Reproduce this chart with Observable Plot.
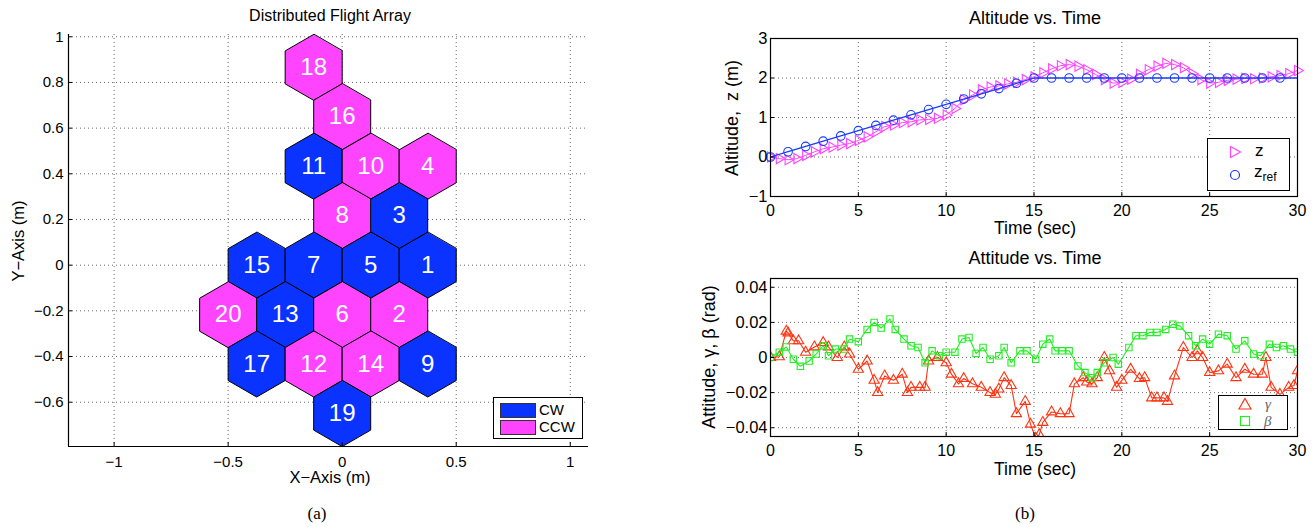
<!DOCTYPE html>
<html><head><meta charset="utf-8">
<script src="https://cdn.jsdelivr.net/npm/d3@7"></script>
<script src="https://cdn.jsdelivr.net/npm/@observablehq/plot@0.6"></script>
<style>
body{margin:0;background:#fff;width:1313px;height:527px;position:relative;overflow:hidden;font-family:"Liberation Sans",Arial,sans-serif;color:#000;}
.abs{position:absolute;}
.lbl{position:absolute;white-space:nowrap;transform:translate(-50%,-50%);line-height:1;}
.rot{transform:translate(-50%,-50%) rotate(-90deg);}
.cap{position:absolute;font-family:"Liberation Serif","Times New Roman",serif;font-size:17px;transform:translate(-50%,-50%);line-height:1;}
.legend{position:absolute;background:#fff;border:1.5px solid #000;box-sizing:border-box;}
.legend .it{position:absolute;white-space:nowrap;line-height:1;}
svg{overflow:visible}
</style></head><body>
<div id="left" class="abs" style="left:0;top:0"></div>
<div id="alt" class="abs" style="left:700px;top:30px"></div>
<div id="att" class="abs" style="left:700px;top:270px"></div>

<div class="lbl" style="left:330px;top:16px;font-size:16px">Distributed Flight Array</div>
<div class="lbl rot" style="left:18px;top:241px;font-size:16.5px">Y−Axis (m)</div>
<div class="lbl" style="left:330px;top:477px;font-size:16.5px">X−Axis (m)</div>
<div class="cap" style="left:317px;top:513px">(a)</div>

<div class="lbl" style="left:1035px;top:18px;font-size:18px">Altitude vs. Time</div>
<div class="lbl rot" style="left:732px;top:118px;font-size:18px">Altitude, &nbsp;z (m)</div>
<div class="lbl" style="left:1035px;top:229px;font-size:17.5px">Time (sec)</div>

<div class="lbl" style="left:1035px;top:258px;font-size:18px">Attitude vs. Time</div>
<div class="lbl rot" style="left:709px;top:357px;font-size:18px">Attitude, γ, β (rad)</div>
<div class="lbl" style="left:1035px;top:470px;font-size:17.5px">Time (sec)</div>
<div class="cap" style="left:1025px;top:513px">(b)</div>

<div class="legend" style="left:493px;top:397px;width:90px;height:42px">
  <div class="it" style="left:6px;top:5px;width:34px;height:13px;background:#0b33ff;border:1px solid #333"></div>
  <div class="it" style="left:45px;top:4px;font-size:15px">CW</div>
  <div class="it" style="left:6px;top:22px;width:34px;height:13px;background:#ff44ff;border:1px solid #333"></div>
  <div class="it" style="left:45px;top:21px;font-size:15px">CCW</div>
</div>

<div class="legend" style="left:1207px;top:138px;width:83px;height:53px">
  <svg class="it" style="left:19px;top:5px" width="16" height="16"><path d="M3.5,2.5 L13.5,8 L3.5,13.5 Z" fill="none" stroke="#ff44ff" stroke-width="1.2"/></svg>
  <div class="it" style="left:47px;top:3px;font-size:17px">z</div>
  <svg class="it" style="left:19px;top:28px" width="16" height="16"><circle cx="8" cy="8" r="4.5" fill="none" stroke="#1a3cff" stroke-width="1.2"/></svg>
  <div class="it" style="left:46px;top:24px;font-size:17px">z<sub style="font-size:12px">ref</sub></div>
</div>

<div class="legend" style="left:1218px;top:395px;width:70px;height:35px">
  <svg class="it" style="left:18px;top:0px" width="16" height="16"><path d="M8,2.5 L14,13 L2,13 Z" fill="none" stroke="#ff3311" stroke-width="1.2"/></svg>
  <div class="it" style="left:46px;top:1px;font-size:15px;font-style:italic;font-family:'Liberation Serif',serif;color:#666">γ</div>
  <svg class="it" style="left:18px;top:17px" width="16" height="16"><rect x="3.5" y="3.5" width="9" height="9" fill="none" stroke="#22ee22" stroke-width="1.2"/></svg>
  <div class="it" style="left:45px;top:18px;font-size:15px;font-style:italic;font-family:'Liberation Serif',serif;color:#666">β</div>
</div>

<script>
// ---------- Data: hexagon flight array ----------
const hexIds = [18, 16, 11, 10, 4, 8, 3, 15, 7, 5, 1, 20, 13, 6, 2, 17, 12, 14, 9, 19];
const hexX   = [-0.125, 0, -0.125, 0.125, 0.375, 0, 0.25, -0.375, -0.125, 0.125, 0.375, -0.5, -0.25, 0, 0.25, -0.375, -0.125, 0.125, 0.375, 0];
const hexY   = [0.866, 0.65, 0.433, 0.433, 0.433, 0.217, 0.217, 0, 0, 0, 0, -0.217, -0.217, -0.217, -0.217, -0.433, -0.433, -0.433, -0.433, -0.65];
const hexDir = ["CCW","CCW","CW","CCW","CCW","CCW","CW","CW","CW","CW","CW","CCW","CW","CCW","CCW","CW","CCW","CCW","CW","CW"];
const hexSpacing = 0.25;
const dirNames = ["CW", "CCW"];
const leftXTicks = [-1, -0.5, 0, 0.5, 1];
const leftYTicks = [-0.6, -0.4, -0.2, 0, 0.2, 0.4, 0.6, 0.8, 1];

// ---------- Data: altitude ----------
const zT = [0,0.5,1,1.5,2,2.5,3,3.5,4,4.5,5,5.5,6,6.5,7,7.5,8,8.5,9,9.5,10,10.5,11,11.5,12,12.5,13,13.5,14,14.5,15,15.5,16,16.5,17,17.5,18,18.5,19,19.5,20,20.5,21,21.5,22,22.5,23,23.5,24,24.5,25,25.5,26,26.5,27,27.5,28,28.5,29,29.5,30];
const zV = [0,-0.04,-0.07,-0.04,0.04,0.13,0.21,0.25,0.3,0.34,0.42,0.51,0.64,0.77,0.81,0.87,0.89,0.94,0.95,0.98,1.06,1.23,1.45,1.57,1.7,1.77,1.8,1.85,1.89,1.96,2.03,2.13,2.23,2.31,2.34,2.3,2.21,2.09,1.96,1.87,1.89,1.97,2.09,2.21,2.3,2.37,2.34,2.26,2.11,1.96,1.87,1.89,1.94,1.97,1.99,1.98,2.0,2.03,2.06,2.11,2.19];
const zrefT = [0,1,2,3,4,5,6,7,8,9,10,11,12,13,14,15,16,17,18,19,20,21,22,23,24,25,26,27,28,29,30];
const zrefV = [0,0.133,0.267,0.4,0.533,0.667,0.8,0.933,1.067,1.2,1.333,1.467,1.6,1.733,1.867,2,2,2,2,2,2,2,2,2,2,2,2,2,2,2,2];
const zrefMarkerCount = 30;
const timeTicks = [0, 5, 10, 15, 20, 25, 30];
const altTicks = [-1, 0, 1, 2, 3];

// ---------- Data: attitude ----------
const gT = [0,0.5,0.9,1.0,1.3,1.6,2,2.5,3,3.3,3.8,4.2,4.5,5,5.5,5.9,6.1,6.5,7,7.5,7.8,8,8.5,8.8,9,9.5,10,10.3,10.7,11,11.5,12,12.5,12.8,13,13.3,13.7,14,14.5,14.8,15.1,15.3,15.5,16,16.5,17,17.3,17.8,18,18.3,18.6,19,19.3,19.7,20,20.5,21,21.3,21.7,22,22.4,22.6,23,23.5,24,24.3,24.6,25,25.5,26,26.5,27,27.5,28,28.2,28.5,29,29.5,29.8,30];
const gV = [0,0.0004,0.015,0.014,0.0095,0.0095,0.003,0.006,0.0085,0.006,0,0.006,0.002,-0.0067,-0.002,-0.013,-0.02,-0.0105,-0.013,-0.0095,-0.02,-0.017,-0.017,-0.017,-0.002,0,-0.003,-0.0095,-0.015,-0.012,-0.015,-0.017,-0.02,-0.021,-0.018,-0.0115,-0.016,-0.032,-0.025,-0.038,-0.046,-0.044,-0.037,-0.031,-0.032,-0.032,-0.015,-0.0115,-0.014,-0.015,-0.0115,0,-0.0076,-0.017,-0.013,-0.0067,-0.012,-0.0115,-0.023,-0.023,-0.023,-0.025,-0.0105,0.0057,0,0.0038,0,-0.0086,-0.0076,-0.0038,-0.0115,-0.0067,-0.0095,-0.0095,0,-0.017,-0.021,-0.017,-0.016,-0.0076];
const bT = [0,0.5,0.9,1.3,1.7,2.2,2.6,3,3.3,3.7,4.2,4.5,5,5.5,5.9,6.3,6.8,7.1,7.6,8,8.4,8.8,9.2,9.6,10,10.5,10.9,11.3,11.7,12.1,12.5,13,13.3,13.7,14.2,14.6,15.1,15.5,15.9,16.2,16.6,17,17.5,17.9,18.3,18.6,19,19.5,19.8,20.4,20.8,21.2,21.6,22,22.5,22.9,23.3,23.8,24.2,24.6,25,25.5,26,26.5,27,27.5,27.9,28.4,28.8,29.2,29.6,30];
const bV = [0,0.003,0.006,-0.001,-0.005,-0.002,0.002,0.0067,0.001,0.0048,0.0048,0.0105,0.009,0.016,0.02,0.0168,0.022,0.016,0.0105,0.0067,0.0057,-0.003,0.0038,0.001,0.003,0.003,0.0105,0.0114,0.0023,0.0057,-0.001,0.001,0.0057,-0.003,0.0038,0.0038,-0.001,0.0076,0.0105,0.0038,0.0038,0.0038,-0.0048,-0.0086,-0.0115,-0.0086,-0.003,0,-0.0038,0.0057,0.0124,0.0124,0.0143,0.0143,0.016,0.019,0.018,0.0124,0.0067,0.0105,0.0076,0.0133,0.0124,0.0048,0.0095,0.002,0.001,0.0076,0.0057,0.0067,0.0048,0.003];
const attTicks = [-0.04, -0.02, 0, 0.02, 0.04];

// ---------- Styles ----------
const BLUE = "#0b33ff", MAG = "#ff44ff", REFBLUE = "#1a3cff", RED = "#ff3311", GREEN = "#22ee22";
const fmt = d => { const a = +Math.abs(d).toFixed(3); return (d < 0 ? "\u2212" : "") + a; };
const gridStyle = {stroke: "#444", strokeOpacity: 0.8, strokeDasharray: "1,3", strokeWidth: 1};
const FONT = "Liberation Sans, Arial, sans-serif";

// ---------- Left chart ----------
const R = hexSpacing / Math.sqrt(3);
const hexPts = [];
hexIds.forEach((id, i) => {
  for (let k = 0; k < 6; k++) {
    const a = Math.PI / 2 + k * Math.PI / 3;
    hexPts.push({id, dir: hexDir[i], x: hexX[i] + R * Math.cos(a), y: hexY[i] + R * Math.sin(a)});
  }
});
const hexCenters = hexIds.map((id, i) => ({id, x: hexX[i], y: hexY[i]}));
const lx = [-1.2, 1.08], ly = [-0.794, 1.01];

const left = Plot.plot({
  width: 600, height: 480, marginLeft: 68, marginRight: 12, marginTop: 34, marginBottom: 34,
  style: {fontFamily: FONT, fontSize: "15px", background: "transparent"},
  x: {domain: lx}, y: {domain: ly},
  color: {domain: dirNames, range: [BLUE, MAG]},
  marks: [
    Plot.gridX(leftXTicks, gridStyle),
    Plot.gridY(leftYTicks, gridStyle),
    Plot.line(hexPts, {x: "x", y: "y", z: "id", fill: "dir", stroke: "#000", strokeWidth: 1, curve: "linear-closed"}),
    Plot.text(hexCenters, {x: "x", y: "y", text: "id", fill: "white", fontSize: 24}),
    Plot.ruleX([lx[0]], {stroke: "#000", strokeWidth: 1.2}),
    Plot.ruleY([ly[0]], {stroke: "#000", strokeWidth: 1.2}),
    Plot.axisX({ticks: leftXTicks, tickSize: -4, tickFormat: () => "", label: null}),
    Plot.axisY({ticks: leftYTicks, tickSize: -4, tickFormat: () => "", label: null}),
    Plot.axisX({ticks: leftXTicks, tickSize: 0, tickPadding: 10, tickFormat: fmt, label: null, fontSize: 15}),
    Plot.axisY({ticks: leftYTicks, tickSize: 0, tickPadding: 5, tickFormat: fmt, label: null, fontSize: 15})
  ]
});
document.getElementById("left").append(left);

// ---------- Altitude chart ----------
const zData = zT.map((t, i) => ({t, v: zV[i]}));
const zrefData = zrefT.map((t, i) => ({t, v: zrefV[i]}));
const zrefMarkers = zrefData.slice(0, zrefMarkerCount);

function rightAxes(yTicks) {
  return [
    Plot.axisX({ticks: timeTicks, tickSize: -4, tickFormat: () => "", label: null}),
    Plot.axisY({ticks: yTicks, tickSize: -4, tickFormat: () => "", label: null}),
    Plot.axisX({ticks: timeTicks, tickSize: 0, tickPadding: 8, tickFormat: fmt, label: null, fontSize: 16}),
    Plot.axisY({ticks: yTicks, tickSize: 0, tickPadding: 3, tickFormat: fmt, label: null, fontSize: 16.5}),
    Plot.frame({stroke: "#000", strokeWidth: 1.2})
  ];
}

const alt = Plot.plot({
  width: 613, height: 200, marginLeft: 70, marginRight: 16, marginTop: 8, marginBottom: 34,
  style: {fontFamily: FONT, background: "transparent"},
  x: {domain: [0, 30]}, y: {domain: [-1, 3]},
  marks: [
    Plot.gridX(timeTicks, gridStyle),
    Plot.gridY(altTicks, gridStyle),
    Plot.line(zData, {x: "t", y: "v", stroke: MAG, strokeWidth: 1}),
    Plot.dot(zData, {x: "t", y: "v", symbol: "triangle", rotate: 90, stroke: MAG, fill: "none", r: 3.8, strokeWidth: 1.1}),
    Plot.line(zrefData, {x: "t", y: "v", stroke: REFBLUE, strokeWidth: 1.3}),
    Plot.dot(zrefMarkers, {x: "t", y: "v", symbol: "circle", stroke: REFBLUE, fill: "none", r: 4.3, strokeWidth: 1.1}),
    ...rightAxes(altTicks)
  ]
});
document.getElementById("alt").append(alt);

// ---------- Attitude chart ----------
const gData = gT.map((t, i) => ({t, v: gV[i]}));
const bData = bT.map((t, i) => ({t, v: bV[i]}));
const att = Plot.plot({
  width: 613, height: 200, marginLeft: 70, marginRight: 16, marginTop: 8, marginBottom: 34,
  style: {fontFamily: FONT, background: "transparent"},
  x: {domain: [0, 30]}, y: {domain: [-0.045, 0.045]},
  marks: [
    Plot.gridX(timeTicks, gridStyle),
    Plot.gridY(attTicks, gridStyle),
    Plot.line(gData, {x: "t", y: "v", stroke: RED, strokeWidth: 1.1, clip: true}),
    Plot.dot(gData, {x: "t", y: "v", symbol: "triangle", stroke: RED, fill: "none", r: 3.8, strokeWidth: 1.1, clip: true}),
    Plot.line(bData, {x: "t", y: "v", stroke: GREEN, strokeWidth: 1.1, clip: true}),
    Plot.dot(bData, {x: "t", y: "v", symbol: "square", stroke: GREEN, fill: "none", r: 3.6, strokeWidth: 1.1, clip: true}),
    ...rightAxes(attTicks)
  ]
});
document.getElementById("att").append(att);
</script>
</body></html>
